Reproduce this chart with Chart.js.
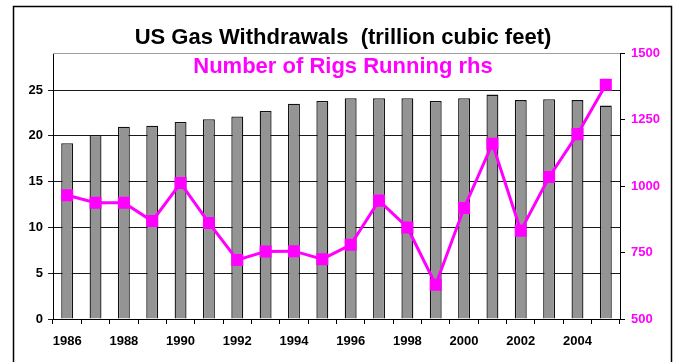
<!DOCTYPE html>
<html>
<head>
<meta charset="utf-8">
<title>US Gas Withdrawals</title>
<script src="https://cdn.jsdelivr.net/npm/chart.js@4"></script>
<style>
  html, body { margin: 0; padding: 0; background: #fff; }
  canvas { display: block; }
</style>
</head>
<body>
<canvas id="gasChart" width="676" height="362"></canvas>
<script>
// US gas withdrawals (bars, lhs) vs rigs running (line, rhs)
const years = ['1986', '1987', '1988', '1989', '1990', '1991', '1992', '1993', '1994', '1995',
  '1996', '1997', '1998', '1999', '2000', '2001', '2002', '2003', '2004', '2005'];
const withdrawals = [19.2, 20.1, 21.0, 21.1, 21.5, 21.8, 22.1, 22.7, 23.5, 23.8,
  24.1, 24.1, 24.1, 23.8, 24.1, 24.5, 23.9, 24.0, 23.9, 23.3];
const rigs = [965, 937, 937, 868, 1011, 861, 722, 754, 755, 725,
  779, 945, 844, 629, 917, 1159, 832, 1034, 1195, 1381];
const leftTicks = [0, 5, 10, 15, 20, 25];
const rightTicks = [500, 750, 1000, 1250, 1500];

const MAGENTA = '#FF00FF';
const FONT = 'Arial, "Liberation Sans", sans-serif';

document.addEventListener('DOMContentLoaded', () => {
  const canvas = document.getElementById('gasChart');
  if (!canvas) return;

  // frame, titles and the grey top edge of the plot
  const decor = {
    id: 'decor',
    beforeDraw(chart) {
      const ctx = chart.ctx;
      ctx.save();
      ctx.fillStyle = '#fff';
      ctx.fillRect(0, 0, chart.width, chart.height);
      ctx.restore();
    },
    afterDraw(chart) {
      const ctx = chart.ctx;
      const area = chart.chartArea;
      ctx.save();
      ctx.strokeStyle = '#a0a0a0';
      ctx.lineWidth = 1;
      ctx.beginPath();
      ctx.moveTo(area.left, Math.round(area.top) + 0.5);
      ctx.lineTo(area.right, Math.round(area.top) + 0.5);
      ctx.stroke();

      ctx.strokeStyle = '#000';
      ctx.lineWidth = 1.5;
      ctx.strokeRect(13.5, 6.5, 658, 420);

      ctx.textAlign = 'center';
      ctx.textBaseline = 'alphabetic';
      ctx.fillStyle = '#000';
      ctx.font = 'bold 22px ' + FONT;
      ctx.fillText('US Gas Withdrawals  (trillion cubic feet)', 343, 44);
      ctx.fillStyle = MAGENTA;
      ctx.fillText('Number of Rigs Running rhs', 343, 72.5);
      ctx.restore();
    }
  };

  new Chart(canvas.getContext('2d'), {
    type: 'bar',
    data: {
      labels: years,
      datasets: [
        {
          type: 'line',
          label: 'Number of Rigs Running rhs',
          data: rigs,
          yAxisID: 'y1',
          borderColor: MAGENTA,
          backgroundColor: MAGENTA,
          borderWidth: 3,
          tension: 0,
          pointStyle: 'rect',
          pointRadius: 8.5,
          pointBorderWidth: 0,
          pointBackgroundColor: MAGENTA,
          order: 0
        },
        {
          label: 'US Gas Withdrawals',
          data: withdrawals,
          yAxisID: 'y',
          backgroundColor: '#949494',
          borderColor: '#111',
          borderWidth: 1.3,
          barPercentage: 0.42,
          categoryPercentage: 1,
          order: 1
        }
      ]
    },
    options: {
      responsive: false,
      animation: false,
      events: [],
      layout: { padding: { top: 53, left: 0, right: 0, bottom: 0 } },
      plugins: { legend: { display: false }, tooltip: { enabled: false }, title: { display: false } },
      scales: {
        x: {
          grid: { drawOnChartArea: false, drawTicks: true, tickLength: 5, color: '#000', offset: true },
          border: { color: '#000', width: 1 },
          ticks: {
            autoSkip: false, maxRotation: 0, padding: 10, color: '#000',
            font: { family: FONT, size: 13, weight: 'bold' },
            callback: (v, i) => (i % 2 === 0 ? years[i] : '')
          },
          afterFit: (s) => { s.height = 43; }
        },
        y: {
          position: 'left',
          min: 0,
          max: 29.04,
          afterBuildTicks: (s) => { s.ticks = leftTicks.map(v => ({ value: v })); },
          grid: { color: '#1a1a1a', lineWidth: 1, tickLength: 5 },
          border: { color: '#000', width: 1 },
          ticks: { padding: 5, color: '#000', font: { family: FONT, size: 13, weight: 'bold' } },
          afterFit: (s) => { s.width = 53; }
        },
        y1: {
          position: 'right',
          min: 500,
          max: 1500,
          afterBuildTicks: (s) => { s.ticks = rightTicks.map(v => ({ value: v })); },
          grid: { drawOnChartArea: false, tickLength: 5, color: '#000' },
          border: { color: '#000', width: 1 },
          ticks: {
            padding: 6, color: MAGENTA, font: { family: FONT, size: 13, weight: 'bold' },
            callback: (v) => String(v)
          },
          afterFit: (s) => { s.width = 56; }
        }
      }
    },
    plugins: [decor]
  });
});
</script>
</body>
</html>
